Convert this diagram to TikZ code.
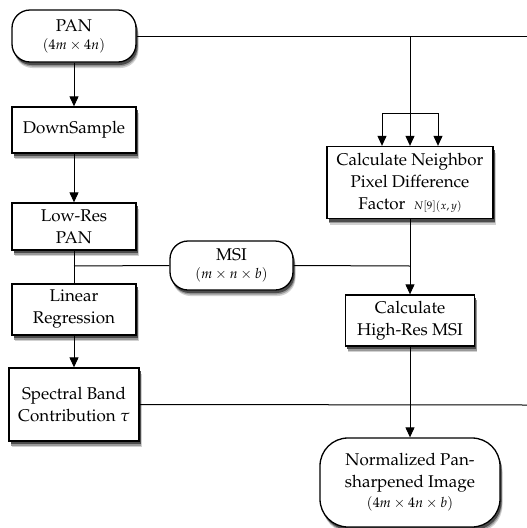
\documentclass[tikz,border=0pt]{standalone}
\usepackage[T1]{fontenc}
\usepackage{mathpazo}
\usetikzlibrary{shadows,arrows.meta}
\begin{document}
\begin{tikzpicture}[x=1pt,y=-1pt,
  box/.style={draw,line width=1.3pt,fill=white,align=center,inner sep=2pt,
     drop shadow={shadow xshift=2.5pt,shadow yshift=-6pt,opacity=1,fill=black!18},
     drop shadow={shadow xshift=2pt,shadow yshift=-4.5pt,opacity=1,fill=black!40},
     drop shadow={shadow xshift=1.5pt,shadow yshift=-3pt,opacity=1,fill=black!70},
     font=\fontsize{17}{22}\selectfont},
  term/.style={box,rounded corners=18pt},
  conn/.style={line width=1pt},
  arr/.style={conn,-{Triangle[length=10pt,width=9pt]}},
]
\useasboundingbox (0,0) rectangle (527,528);

\node[term,minimum width=124pt,minimum height=52pt] (pan) at (74,36)
  {PAN\\[-4pt]{\fontsize{14}{16}\selectfont$(4m\times 4n)$}};
\node[box,minimum width=124pt,minimum height=46pt] (down) at (74,130) {DownSample};
\node[box,minimum width=124pt,minimum height=47pt] (low) at (74,226.5) {Low-Res\\PAN};
\node[term,minimum width=123pt,minimum height=49pt] (msi) at (231.5,265.5)
  {MSI\\[-4pt]{\fontsize{14}{16}\selectfont$(m\times n\times b)$}};
\node[box,minimum width=124pt,minimum height=51pt] (lin) at (74,309.5) {Linear\\Regression};
\node[box,minimum width=130pt,minimum height=73pt] (spec) at (74,404.5) {Spectral Band\\Contribution $\tau$};
\node[box,minimum width=166pt,minimum height=72pt] (neigh) at (410,182.5)
  {Calculate Neighbor\\Pixel Difference\\Factor\ \ {\fontsize{11}{12}\selectfont$N[9](x,y)$}};
\node[box,minimum width=129pt,minimum height=51pt] (high) at (410,320.5) {Calculate\\High-Res MSI};
\node[term,rounded corners=28pt,minimum width=180pt,minimum height=89pt] (norm) at (410,482.5)
  {Normalized Pan-\\sharpened Image\\[-2pt]{\fontsize{14}{16}\selectfont$(4m\times 4n\times b)$}};

\coordinate (panend) at (527,36);
\coordinate (br) at (410,36);
\coordinate (brl) at (382,113);
\coordinate (brm) at (410,113);
\coordinate (brr) at (438,113);
\coordinate (specend) at (527,405);
\coordinate (msij) at (74,266);
\coordinate (msik) at (410,266);

\draw[conn] (pan.east) -- (panend);
\draw[conn] (br) -- (brm);
\draw[conn] (brl) -- (brr);
\draw[arr] (brl) -- (brl |- neigh.north);
\draw[arr] (brm) -- (neigh.north);
\draw[arr] (brr) -- (brr |- neigh.north);
\draw[arr] (pan.south) -- (down.north);
\draw[arr] (down.south) -- (low.north);
\draw[conn] (low.south) -- (lin.north);
\draw[conn] (msi.west) -- (msij);
\draw[conn] (msi.east) -- (msik);
\draw[arr] (neigh.south) -- (high.north);
\draw[arr] (lin.south) -- (spec.north);
\draw[conn] (spec.east) -- (specend);
\draw[arr] (high.south) -- (norm.north);
\end{tikzpicture}
\end{document}
